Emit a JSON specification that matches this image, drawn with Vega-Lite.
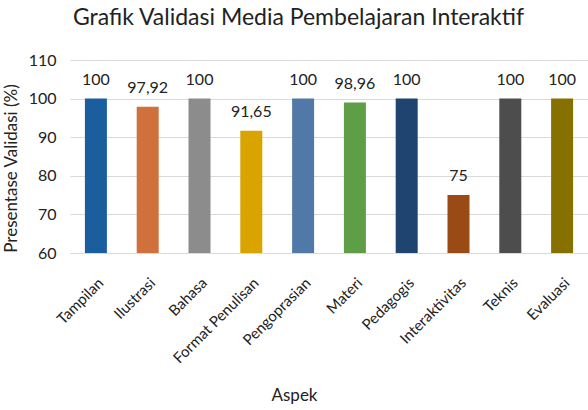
{
  "$schema": "https://vega.github.io/schema/vega-lite/v6.json",
  "width": 518,
  "height": 193,
  "autosize": "none",
  "padding": {"left": 70, "top": 60, "right": 0, "bottom": 157},
  "background": "white",
  "config": {"view": {"stroke": null}, "font": "Lato"},
  "title": {"text": "Grafik Validasi Media Pembelajaran Interaktif", "fontSize": 23, "fontWeight": "normal", "color": "#222222", "anchor": "start", "frame": "group", "dx": 3, "offset": 22, "font": "Lato"},
  "data": {"values": [
    {"aspek": "Tampilan", "nilai": 100, "label": "100", "warna": "#1B5E9E"},
    {"aspek": "Ilustrasi", "nilai": 97.92, "label": "97,92", "warna": "#D0703A"},
    {"aspek": "Bahasa", "nilai": 100, "label": "100", "warna": "#8C8C8C"},
    {"aspek": "Format Penulisan", "nilai": 91.65, "label": "91,65", "warna": "#D9A400"},
    {"aspek": "Pengoprasian", "nilai": 100, "label": "100", "warna": "#5079A8"},
    {"aspek": "Materi", "nilai": 98.96, "label": "98,96", "warna": "#5E9E46"},
    {"aspek": "Pedagogis", "nilai": 100, "label": "100", "warna": "#1F4470"},
    {"aspek": "Interaktivitas", "nilai": 75, "label": "75", "warna": "#9A4A15"},
    {"aspek": "Teknis", "nilai": 100, "label": "100", "warna": "#4D4D4D"},
    {"aspek": "Evaluasi", "nilai": 100, "label": "100", "warna": "#857000"}
  ]},
  "encoding": {
    "x": {"field": "aspek", "type": "nominal", "sort": null,
      "axis": {"title": "Aspek", "labelAngle": -45, "labelFontSize": 15, "labelColor": "#222222", "ticks": false, "domainColor": "#d9d9d9", "labelPadding": 22, "titleFontSize": 17, "titleFontWeight": "normal", "titleColor": "#222222", "titleX": 224, "titleY": 142, "titleBaseline": "middle"}},
    "y": {"field": "nilai", "type": "quantitative", "scale": {"domain": [60, 110]},
      "axis": {"title": "Presentase Validasi (%)", "values": [60, 70, 80, 90, 100, 110], "labelFontSize": 16, "labelColor": "#222222", "ticks": false, "domain": false, "gridColor": "#d9d9d9", "labelPadding": 14, "titleFontSize": 17, "titleFontWeight": "normal", "titleColor": "#222222", "titlePadding": 8, "titleY": 108}}
  },
  "layer": [
    {"mark": {"type": "bar", "size": 22, "clip": true},
     "encoding": {"color": {"field": "warna", "type": "nominal", "scale": null}}},
    {"mark": {"type": "text", "dy": -19, "fontSize": 16, "color": "#222222"},
     "encoding": {"text": {"field": "label"}}}
  ]
}
